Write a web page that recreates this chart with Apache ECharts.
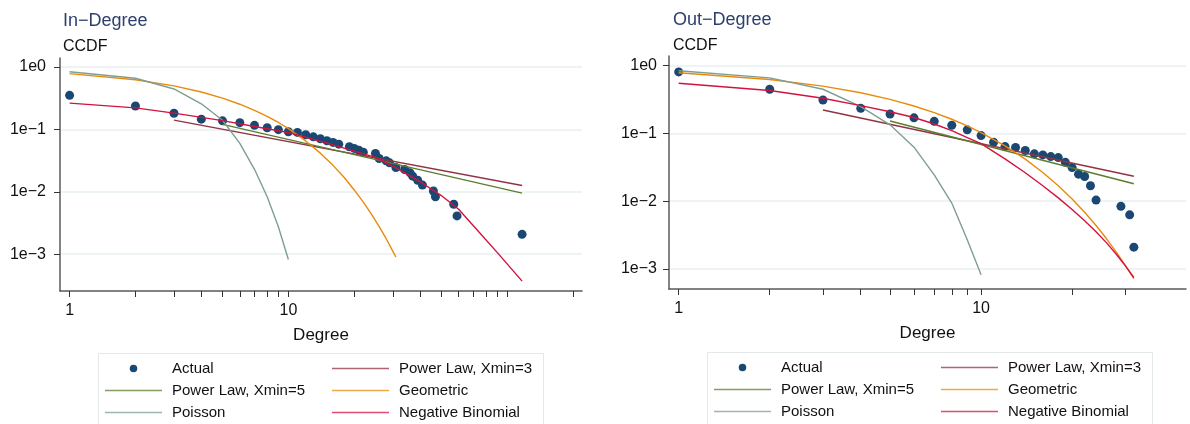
<!DOCTYPE html>
<html>
<head>
<meta charset="utf-8">
<script src="https://cdn.jsdelivr.net/npm/echarts@6/dist/echarts.min.js"></script>
<style>
  html, body { margin: 0; padding: 0; background: #fff; }
  #chart { width: 1190px; height: 424px; }
</style>
</head>
<body>
<div id="chart"></div>
<script>
// ---- data: [degree, CCDF] ----
const inActual = [[1,0.351],[2,0.237],[3,0.181],[4,0.146],[5,0.137],[6,0.128],[7,0.116],[8,0.106],[9,0.099],[10,0.0916],
  [11,0.0895],[12,0.082],[13,0.076],[14,0.0708],[15,0.0656],[16,0.0618],[17,0.058],[19,0.0526],[20,0.0495],[21,0.0465],
  [22,0.0432],[25,0.0412],[26,0.0342],[28,0.0313],[29,0.0291],[31,0.0245],[34,0.0228],[36,0.0201],[37,0.0178],[39,0.0153],
  [41,0.0128],[46,0.0103],[47,0.0083],[57,0.0063],[59,0.0041],[117,0.00208]]
const inPowerLaw3 = [[3,0.141],[117,0.0126]]
const inPowerLaw5 = [[5,0.12],[117,0.0095]]
const inGeometric = [[1,0.782],[2,0.624],[3,0.498],[4,0.397],[5,0.317],[6,0.253],[7,0.202],[8,0.161],[9,0.129],[10,0.103],
  [12,0.0653],[14,0.0416],[16,0.0265],[18,0.0169],[20,0.0107],[22,0.00684],[24,0.00436],[26,0.00277],[28,0.00177],[30,0.00112],[31,0.0009]]
const inPoisson = [[1,0.84],[2,0.659],[3,0.444],[4,0.257],[5,0.14],[6,0.0596],[7,0.0229],[8,0.0083],[9,0.00275],[10,0.00082]]
const inNegBinomial = [[1,0.264],[2,0.221],[3,0.182],[5,0.138],[7,0.111],[10,0.0891],[15,0.0603],[20,0.0447],[25,0.0355],
  [30,0.0257],[40,0.0145],[50,0.0087],[60,0.00525],[75,0.00219],[90,0.00107],[117,0.00037]]

const outActual = [[1,0.81],[2,0.449],[3,0.312],[4,0.235],[5,0.194],[6,0.17],[7,0.151],[8,0.132],[9,0.113],[10,0.093],
  [11,0.0743],[12,0.064],[13,0.062],[14,0.056],[15,0.05],[16,0.0483],[17,0.0456],[18,0.0441],[19,0.0375],[20,0.0314],
  [21,0.0251],[22,0.0232],[23,0.0169],[24,0.0104],[29,0.0084],[31,0.0063],[32,0.0021]]
const outPowerLaw3 = [[3,0.222],[32,0.0234]]
const outPowerLaw5 = [[5,0.153],[32,0.0181]]
const outGeometric = [[1,0.785],[2,0.627],[3,0.5],[4,0.399],[5,0.318],[6,0.254],[7,0.203],[8,0.162],[9,0.129],[10,0.103],
  [12,0.0656],[14,0.0418],[16,0.0266],[18,0.0169],[20,0.0108],[22,0.00687],[24,0.00438],[26,0.00279],[28,0.00177],[30,0.00113],[32,0.00072]]
const outPoisson = [[1,0.843],[2,0.66],[3,0.449],[4,0.249],[5,0.134],[6,0.0627],[7,0.0245],[8,0.0094],[9,0.0027],[10,0.00082]]
const outNegBinomial = [[1,0.551],[2,0.431],[3,0.331],[4,0.257],[5,0.209],[6,0.172],[7,0.138],[8,0.11],[9,0.0871],[10,0.0708],
  [12,0.0421],[14,0.0263],[16,0.0169],[18,0.0112],[20,0.00755],[22,0.00515],[24,0.00354],[26,0.00243],[28,0.00165],[30,0.00111],[32,0.00075]]

const yTicks = [0.001, 0.01, 0.1, 1]
const inXTicks = [1,2,3,4,5,6,7,8,9,10,20,30,40,50,60,70,80,90,100,200]
const outXTicks = [1,2,3,4,5,6,7,8,9,10,20,30]
const xLabels = [1, 10]

const names = {
  actual: 'Actual', pl3: 'Power Law, Xmin=3', pl5: 'Power Law, Xmin=5',
  geo: 'Geometric', poi: 'Poisson', nb: 'Negative Binomial'
}
const colors = {
  actual: '#1b4872', pl3: '#923245', pl5: '#5b7d2f',
  geo: '#ea8a0c', poi: '#7f9e93', nb: '#d3123f'
}

const font = 'Liberation Sans, Arial, sans-serif'
const minus = s => String(s).replace('-', '\u2212')

function xAxis(idx, min, max, ticks) {
  return {
    type: 'log', logBase: 10, gridIndex: idx, min: min, max: max,
    name: 'Degree', nameLocation: 'middle', nameGap: 36,
    nameTextStyle: { fontFamily: font, fontSize: 17, color: '#111' },
    axisLine: { show: true, onZero: false, lineStyle: { color: '#5a5a5a', width: 1.5 } },
    axisTick: { show: true, length: 6, customValues: ticks, lineStyle: { color: '#333' } },
    axisLabel: { customValues: xLabels, margin: 12, fontFamily: font, fontSize: 16, color: '#111',
      formatter: v => String(Math.round(v)) },
    splitLine: { show: false },
    minorTick: { show: false }
  }
}
function yAxis(idx, min, max, margin) {
  return {
    type: 'log', logBase: 10, gridIndex: idx, min: min, max: max,
    axisLine: { show: true, lineStyle: { color: '#5a5a5a', width: 1.5 } },
    axisTick: { show: true, length: 6, customValues: yTicks, lineStyle: { color: '#333' } },
    axisLabel: { customValues: yTicks, margin: margin, fontFamily: font, fontSize: 16, color: '#111',
      formatter: v => '1e' + minus(Math.round(Math.log10(v))) },
    splitLine: { show: true, lineStyle: { color: '#e9efef', width: 1.5 } }
  }
}

function panel(idx, d) {
  const line = (key, data) => ({
    name: names[key], type: 'line', xAxisIndex: idx, yAxisIndex: idx, data: data,
    symbol: 'none', showSymbol: false, lineStyle: { color: colors[key], width: 1.4 },
    itemStyle: { color: colors[key] }, z: 3
  })
  return [
    { name: names.actual, type: 'scatter', xAxisIndex: idx, yAxisIndex: idx, data: d.actual,
      symbol: 'circle', symbolSize: 9, itemStyle: { color: colors.actual, opacity: 1 }, z: 2 },
    line('pl3', d.pl3), line('pl5', d.pl5), line('geo', d.geo), line('poi', d.poi), line('nb', d.nb)
  ]
}

// legend icons: a plain dot for the scatter, a thin bar for the lines
const lineIcon = 'path://M0,0H57V1.5H0Z'
function legend(left, top, keys) {
  return {
    left: left, top: top, orient: 'vertical', padding: 0, itemGap: 7,
    itemWidth: 57, itemHeight: 7.5, selectedMode: false,
    textStyle: { fontFamily: font, fontSize: 15, color: '#111', padding: [0, 0, 0, 5] },
    data: keys.map(k => ({
      name: names[k],
      icon: k === 'actual' ? 'circle' : lineIcon,
      itemStyle: { color: colors[k], opacity: k === 'actual' ? 1 : 0.75, borderWidth: 0 }
    }))
  }
}

const chart = echarts.init(document.getElementById('chart'), null, { renderer: 'canvas' })
chart.setOption({
  animation: false,
  backgroundColor: '#fff',
  title: [
    { text: 'In\u2212Degree', subtext: 'CCDF', left: 63, top: 12, padding: 0, itemGap: 9,
      textStyle: { fontFamily: font, fontSize: 18, fontWeight: 'normal', color: '#2e3f6e' },
      subtextStyle: { fontFamily: font, fontSize: 16, color: '#111' } },
    { text: 'Out\u2212Degree', subtext: 'CCDF', left: 673, top: 11, padding: 0, itemGap: 9,
      textStyle: { fontFamily: font, fontSize: 18, fontWeight: 'normal', color: '#2e3f6e' },
      subtextStyle: { fontFamily: font, fontSize: 16, color: '#111' } }
  ],
  grid: [
    { left: 60, top: 58, width: 522, height: 233 },
    { left: 669, top: 56, width: 517, height: 233 }
  ],
  xAxis: [xAxis(0, 0.904, 219.8, inXTicks), xAxis(1, 0.929, 47.6, outXTicks)],
  yAxis: [yAxis(0, 0.000257, 1.393, 14), yAxis(1, 0.000507, 1.39, 12)],
  legend: [
    legend(105, 361, ['actual', 'pl5', 'poi']),
    legend(332, 361, ['pl3', 'geo', 'nb']),
    legend(714, 360, ['actual', 'pl5', 'poi']),
    legend(941, 360, ['pl3', 'geo', 'nb'])
  ],
  graphic: [
    { type: 'rect', shape: { x: 98.5, y: 353.5, width: 445, height: 80 },
      style: { fill: 'none', stroke: '#e3e9e9', lineWidth: 1 }, silent: true },
    { type: 'rect', shape: { x: 707.5, y: 352.5, width: 445, height: 80 },
      style: { fill: 'none', stroke: '#e3e9e9', lineWidth: 1 }, silent: true }
  ],
  series: [
    ...panel(0, { actual: inActual, pl3: inPowerLaw3, pl5: inPowerLaw5, geo: inGeometric, poi: inPoisson, nb: inNegBinomial }),
    ...panel(1, { actual: outActual, pl3: outPowerLaw3, pl5: outPowerLaw5, geo: outGeometric, poi: outPoisson, nb: outNegBinomial })
  ]
})
</script>
</body>
</html>
